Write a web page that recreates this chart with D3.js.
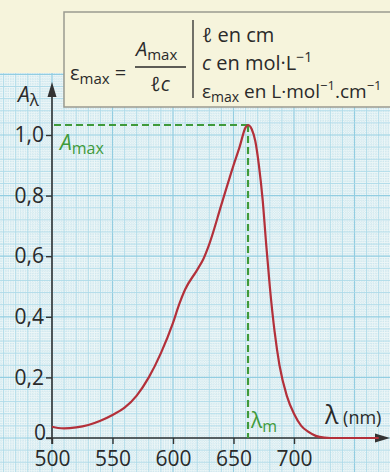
<!DOCTYPE html>
<html><head><meta charset="utf-8">
<script src="https://cdn.jsdelivr.net/npm/d3@7"></script>
<style>body{margin:0;background:#f6f4dc}svg{display:block}text{font-family:"Open Sans","Noto Sans",sans-serif}</style>
</head><body><svg id="c" width="390" height="472"></svg>
<script>
const wavelengths = [500,505,510,520,530,540,550,560,570,580,590,600,605,610,620,625,630,640,650,655,660,662,665,668,671,674,677,680,684,688,694,700,706,712,718,725,730,770];
const absorbance  = [0.037,0.033,0.032,0.035,0.043,0.057,0.076,0.10,0.14,0.20,0.28,0.38,0.44,0.49,0.555,0.59,0.64,0.77,0.90,0.96,1.025,1.033,1.02,0.98,0.90,0.79,0.64,0.50,0.35,0.24,0.14,0.08,0.04,0.02,0.007,0.001,0,0];
const xTicks = [500,550,600,650,700];
const yTicks = [0,0.2,0.4,0.6,0.8,1.0];
const yTickLabels = ["0","0,2","0,4","0,6","0,8","1,0"];
const peakLambda = 662, peakA = 1.033;

const svg = d3.select("#c");
const x = d3.scaleLinear().domain([500,700]).range([52,294]);
const y = d3.scaleLinear().domain([0,1]).range([438,135]);

// grid background
const gTop = 73;
svg.append("rect").attr("x",0).attr("y",gTop).attr("width",390).attr("height",472-gTop).attr("fill","#ecf6f7");
const g = svg.append("g");
const lx0 = x.invert(0), lx1 = x.invert(390);
const ay0 = y.invert(472), ay1 = y.invert(gTop);
// minor
for (let v = Math.ceil(lx0/2)*2; v <= lx1; v += 2) {
  if (v % 10 === 0) continue;
  g.append("line").attr("x1",x(v)).attr("x2",x(v)).attr("y1",gTop).attr("y2",472).attr("stroke","#c8e4ec").attr("stroke-width",0.7).attr("stroke-dasharray","1.5,1");
}
for (let i = Math.ceil(ay0/0.008); i*0.008 <= ay1; i++) {
  if (i % 5 === 0) continue;
  const v = i*0.008;
  g.append("line").attr("x1",0).attr("x2",390).attr("y1",y(v)).attr("y2",y(v)).attr("stroke","#c8e4ec").attr("stroke-width",0.7).attr("stroke-dasharray","1.5,1");
}
// major
for (let v = Math.ceil(lx0/10)*10; v <= lx1; v += 10) {
  g.append("line").attr("x1",x(v)).attr("x2",x(v)).attr("y1",gTop).attr("y2",472).attr("stroke", v%50===0?"#92cde1":"#acd9e8").attr("stroke-width",v%50===0?1.2:0.9);
}
for (let i = Math.ceil(ay0/0.04); i*0.04 <= ay1; i++) {
  const v = i*0.04;
  g.append("line").attr("x1",0).attr("x2",390).attr("y1",y(v)).attr("y2",y(v)).attr("stroke", i%5===0?"#92cde1":"#acd9e8").attr("stroke-width",i%5===0?1.2:0.9);
}

// formula box
svg.append("rect").attr("x",64).attr("y",12).attr("width",340).attr("height",95).attr("fill","#f6f4dc").attr("stroke","#9a9a90").attr("stroke-width",1.5);
const txt = "#2a2a2a";
const f = svg.append("g").attr("fill",txt).style("font-size","20px");
const t1 = f.append("text").attr("x",70).attr("y",80);
t1.append("tspan").text("ε");
t1.append("tspan").attr("dy",4).style("font-size","15px").text("max");
t1.append("tspan").attr("dy",-4).text(" =");
const t2 = f.append("text").attr("x",136).attr("y",56);
t2.append("tspan").style("font-style","italic").text("A");
t2.append("tspan").attr("dy",4).style("font-size","15px").text("max");
svg.append("line").attr("x1",135).attr("x2",186).attr("y1",67).attr("y2",67).attr("stroke",txt).attr("stroke-width",1.3);
f.append("text").attr("x",160).attr("y",91).attr("text-anchor","middle").style("font-style","italic").text("ℓc");
svg.append("line").attr("x1",193).attr("x2",193).attr("y1",20).attr("y2",98).attr("stroke",txt).attr("stroke-width",1.3);
const r1 = f.append("text").attr("x",202).attr("y",42);
r1.append("tspan").style("font-style","italic").text("ℓ");
r1.append("tspan").text(" en cm");
const r2 = f.append("text").attr("x",202).attr("y",70);
r2.append("tspan").style("font-style","italic").text("c");
r2.append("tspan").text(" en mol·L");
r2.append("tspan").attr("dy",-8).style("font-size","14px").text("−1");
const r3 = f.append("text").attr("x",202).attr("y",98).style("font-size","19px");
r3.append("tspan").text("ε");
r3.append("tspan").attr("dy",4).style("font-size","14px").text("max");
r3.append("tspan").attr("dy",-4).text(" en L·mol");
r3.append("tspan").attr("dy",-8).style("font-size","13px").text("−1");
r3.append("tspan").attr("dy",8).text(".cm");
r3.append("tspan").attr("dy",-8).style("font-size","13px").text("−1");

// axes
const axCol = "#333";
svg.append("line").attr("x1",x(500)).attr("x2",x(500)).attr("y1",y(0)+6).attr("y2",92).attr("stroke",axCol).attr("stroke-width",1.6);
svg.append("path").attr("d",`M${x(500)},82 L${x(500)-4.5},97 L${x(500)+4.5},97 Z`).attr("fill",axCol);
svg.append("line").attr("x1",x(500)-6).attr("x2",380).attr("y1",y(0)).attr("y2",y(0)).attr("stroke",axCol).attr("stroke-width",1.6);
svg.append("path").attr("d",`M390,${y(0)} L375,${y(0)-4.5} L375,${y(0)+4.5} Z`).attr("fill",axCol);

const xAxis = svg.append("g").attr("transform",`translate(0,${y(0)})`)
  .call(d3.axisBottom(x).tickValues(xTicks).tickSize(6).tickSizeOuter(0).tickPadding(7));
xAxis.select(".domain").remove();
xAxis.selectAll("line").attr("stroke",axCol).attr("stroke-width",1.4);
xAxis.selectAll("text").attr("fill",txt).style("font-size","21px").attr("font-family",'"Open Sans",sans-serif');
const yAxis = svg.append("g").attr("transform",`translate(${x(500)},0)`)
  .call(d3.axisLeft(y).tickValues(yTicks).tickFormat((d,i)=>yTickLabels[i]).tickSize(6).tickSizeOuter(0).tickPadding(2));
yAxis.select(".domain").remove();
yAxis.selectAll("line").attr("stroke",axCol).attr("stroke-width",1.4);
yAxis.selectAll("text").attr("fill",txt).style("font-size","21px").attr("font-family",'"Open Sans",sans-serif');
yAxis.selectAll(".tick").filter(d=>d===0).select("text").attr("dy","0.05em").attr("x",-6);

// axis labels
const al = svg.append("text").attr("x",18).attr("y",102).attr("fill",txt).style("font-size","21px");
al.append("tspan").style("font-style","italic").text("A");
al.append("tspan").attr("dy",4).style("font-size","17px").text("λ");
const xl = svg.append("text").attr("x",325).attr("y",424).attr("fill",txt);
xl.append("tspan").style("font-size","25px").text("λ");
xl.append("tspan").style("font-size","18px").text(" (nm)");

// dashed markers
const green = "#3f9a3a";
svg.append("line").attr("x1",x(500)+2).attr("x2",x(peakLambda)).attr("y1",y(peakA)).attr("y2",y(peakA)).attr("stroke",green).attr("stroke-width",2.2).attr("stroke-dasharray","7,4");
svg.append("line").attr("x1",x(peakLambda)).attr("x2",x(peakLambda)).attr("y1",y(peakA)).attr("y2",y(0)).attr("stroke",green).attr("stroke-width",2.2).attr("stroke-dasharray","7,4");
const am = svg.append("text").attr("x",60).attr("y",150).attr("fill",green).style("font-size","21px");
am.append("tspan").style("font-style","italic").text("A");
am.append("tspan").attr("dy",4).style("font-size","16px").text("max");
const lm = svg.append("text").attr("x",251).attr("y",428).attr("fill",green).style("font-size","21px");
lm.append("tspan").text("λ");
lm.append("tspan").attr("dy",4).style("font-size","16px").text("m");

// curve
const line = d3.line().x((d,i)=>x(wavelengths[i])).y(d=>y(d)).curve(d3.curveMonotoneX);
svg.append("path").attr("d",line(absorbance)).attr("fill","none").attr("stroke","#b3303a").attr("stroke-width",2.2);
</script></body></html>
